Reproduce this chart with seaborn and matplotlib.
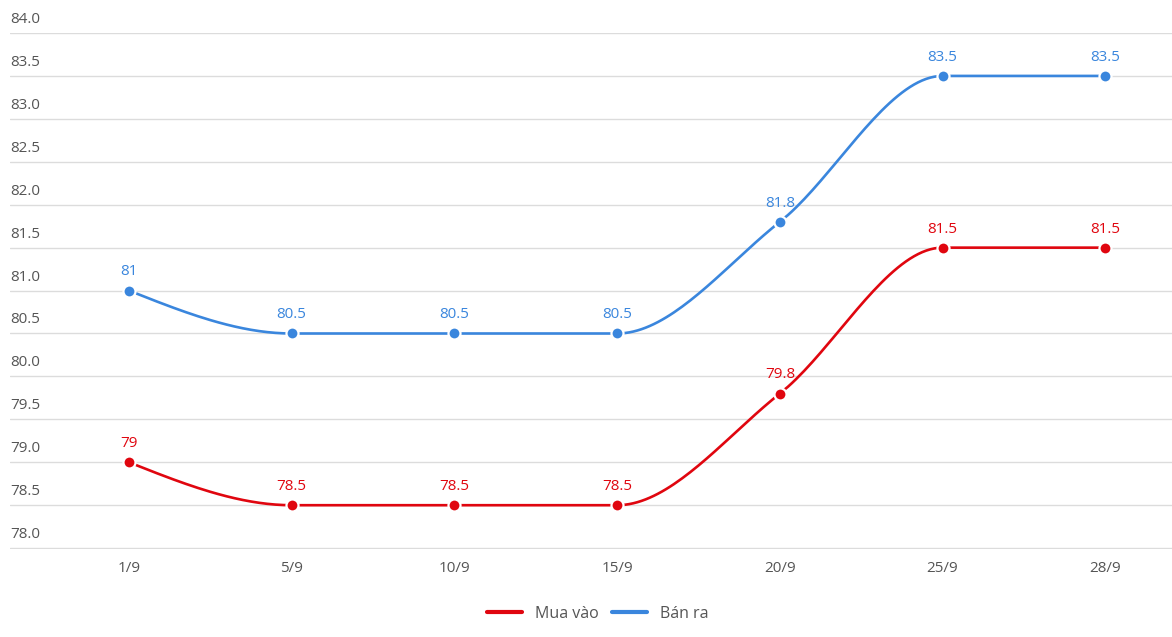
import numpy as np
import pandas as pd
import matplotlib
matplotlib.use("Agg")
import matplotlib.pyplot as plt
import seaborn as sns
from matplotlib.lines import Line2D

dates = ["1/9", "5/9", "10/9", "15/9", "20/9", "25/9", "28/9"]
mua_vao = [79.0, 78.5, 78.5, 78.5, 79.8, 81.5, 81.5]
ban_ra = [81.0, 80.5, 80.5, 80.5, 81.8, 83.5, 83.5]
series_names = ["Mua vào", "Bán ra"]
colors = {"Mua vào": "#e0060f", "Bán ra": "#3a86dd"}
yticks = [78.0, 78.5, 79.0, 79.5, 80.0, 80.5, 81.0, 81.5, 82.0, 82.5, 83.0, 83.5, 84.0]
labels_mua = ["79", "78.5", "78.5", "78.5", "79.8", "81.5", "81.5"]
labels_ban = ["81", "80.5", "80.5", "80.5", "81.8", "83.5", "83.5"]

sns.set_theme(style="white")
plt.rcParams["font.family"] = ["Open Sans", "DejaVu Sans"]


def monotone_curve(y, n=40):
    """d3 curveMonotoneX style smoothing for evenly spaced x."""
    y = np.asarray(y, float)
    k = len(y)
    s = np.diff(y)
    t = np.zeros(k)
    for i in range(1, k - 1):
        s0, s1 = s[i - 1], s[i]
        p = (s0 + s1) / 2
        t[i] = (np.sign(s0) + np.sign(s1)) * min(abs(s0), abs(s1), 0.5 * abs(p))
    t[0] = (3 * s[0] - t[1]) / 2 if k > 2 else s[0]
    t[-1] = (3 * s[-1] - t[-2]) / 2 if k > 2 else s[-1]
    xs, ys = [], []
    for i in range(k - 1):
        u = np.linspace(0, 1, n, endpoint=(i == k - 2))
        h00 = 2 * u**3 - 3 * u**2 + 1
        h10 = u**3 - 2 * u**2 + u
        h01 = -2 * u**3 + 3 * u**2
        h11 = u**3 - u**2
        xs.append(i + u)
        ys.append(h00 * y[i] + h10 * t[i] + h01 * y[i + 1] + h11 * t[i + 1])
    return np.concatenate(xs), np.concatenate(ys)


fig = plt.figure(figsize=(11.72, 6.37), dpi=100)
ax = fig.add_axes([10 / 1172, (637 - 549) / 637, 1 - 10 / 1172, (549 - 33) / 637])

for name, vals, labs in [("Bán ra", ban_ra, labels_ban), ("Mua vào", mua_vao, labels_mua)]:
    cx, cy = monotone_curve(vals)
    curve = pd.DataFrame({"x": cx, "y": cy})
    sns.lineplot(data=curve, x="x", y="y", ax=ax, color=colors[name], lw=1.9,
                 sort=False, estimator=None, zorder=3)
    pts = pd.DataFrame({"x": np.arange(len(dates)), "y": vals})
    sns.scatterplot(data=pts, x="x", y="y", ax=ax, color=colors[name], s=75,
                    edgecolor="white", linewidth=1.6, zorder=4)
    for i, (v, lab) in enumerate(zip(vals, labs)):
        ax.annotate(lab, (i, v), xytext=(0, 8), textcoords="offset points",
                    ha="center", va="bottom", color=colors[name], fontsize=11)

ax.set_xlim(-0.731, 6.41)
ax.set_ylim(77.99, 84.0)
ax.set_yticks(yticks)
ax.yaxis.grid(True, color="#dcdcdc", lw=1)
ax.set_yticklabels([])
ax.tick_params(axis="y", length=0)
for v in yticks:
    ax.text(0.0, v + 0.07, f"{v:.1f}", transform=ax.get_yaxis_transform(),
            ha="left", va="bottom", fontsize=11, color="#555555")
ax.set_xticks(range(len(dates)))
ax.set_xticklabels(dates, fontsize=11, color="#555555")
ax.tick_params(axis="x", length=0, pad=9)
ax.set_xlabel("")
ax.set_ylabel("")
for sp in ax.spines.values():
    sp.set_visible(False)

handles = [Line2D([0], [0], color=colors[n], lw=3) for n in series_names]
fig.legend(handles, series_names, loc="center", bbox_to_anchor=(0.51, 1 - 614 / 637),
           ncol=2, frameon=False, fontsize=11.5, handlelength=2.2, columnspacing=0.8,
           handletextpad=0.8, labelcolor="#555555")

fig.savefig("out.png", dpi=100)
